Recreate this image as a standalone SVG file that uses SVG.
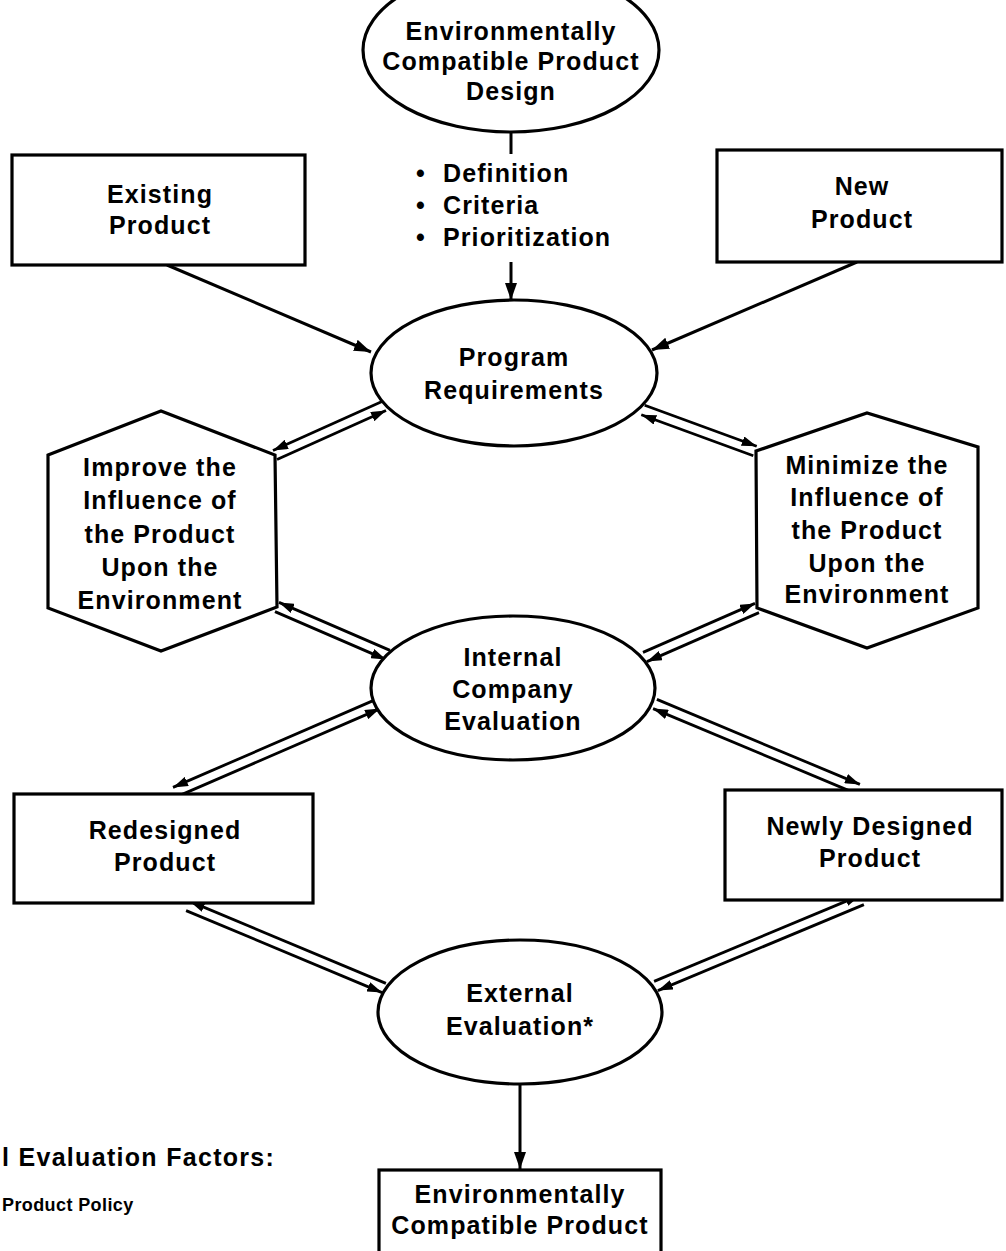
<svg xmlns="http://www.w3.org/2000/svg" width="1006" height="1251" viewBox="0 0 1006 1251">
  <defs>
    <style>
      .shape { fill: #fff; stroke: #000; stroke-width: 3.2; }
      .lbl { font-family: "Liberation Sans", Arial, Helvetica, sans-serif; font-weight: bold; font-size: 25px; letter-spacing: 1.1px; fill: #000; text-anchor: middle; }
      .note { font-family: "Liberation Sans", Arial, Helvetica, sans-serif; font-weight: bold; fill: #000; }
      .wire { fill: none; stroke: #000; stroke-width: 3; }
      .pair { fill: none; stroke: #000; stroke-width: 2.8; marker-end: url(#tip); }
      .one { fill: none; stroke: #000; stroke-width: 3; marker-end: url(#tipL); }
    </style>
    <marker id="tip" markerUnits="userSpaceOnUse" markerWidth="15" markerHeight="10" refX="15" refY="5" orient="auto" viewBox="0 0 15 10">
      <path d="M0,0 L15,5 L0,10 Z" fill="#000"/>
    </marker>
    <marker id="tipL" markerUnits="userSpaceOnUse" markerWidth="17" markerHeight="12" refX="17" refY="6" orient="auto" viewBox="0 0 17 12">
      <path d="M0,0 L17,6 L0,12 Z" fill="#000"/>
    </marker>
  </defs>

  <!-- connectors -->
  <g id="connectors">
    <line class="wire" x1="511" y1="132" x2="511" y2="154"/>
    <line class="one" x1="511" y1="262" x2="511" y2="300"/>
    <line class="one" x1="167" y1="265" x2="371" y2="352"/>
    <line class="one" x1="857" y1="262" x2="652" y2="350"/>
    <line class="one" x1="520" y1="1085" x2="520" y2="1169"/>

    <!-- two-way links drawn as parallel arrows -->
    <line class="pair" x1="382.0" y1="401.5" x2="273.0" y2="450.5"/>
    <line class="pair" x1="277.0" y1="459.5" x2="386.0" y2="410.5"/>

    <line class="pair" x1="644.7" y1="405.3" x2="756.7" y2="446.3"/>
    <line class="pair" x1="753.3" y1="455.7" x2="641.3" y2="414.7"/>

    <line class="pair" x1="390.0" y1="650.4" x2="279.0" y2="602.4"/>
    <line class="pair" x1="275.0" y1="611.6" x2="386.0" y2="659.6"/>

    <line class="pair" x1="643.0" y1="652.4" x2="755.0" y2="603.4"/>
    <line class="pair" x1="759.0" y1="612.6" x2="647.0" y2="661.6"/>

    <line class="pair" x1="376.0" y1="699.4" x2="173.0" y2="787.4"/>
    <line class="pair" x1="177.0" y1="796.6" x2="380.0" y2="708.6"/>

    <line class="pair" x1="656.9" y1="699.4" x2="859.9" y2="784.4"/>
    <line class="pair" x1="856.1" y1="793.6" x2="653.1" y2="708.6"/>

    <line class="pair" x1="385.9" y1="983.4" x2="189.9" y2="901.4"/>
    <line class="pair" x1="186.1" y1="910.6" x2="382.1" y2="992.6"/>

    <line class="pair" x1="654.1" y1="981.4" x2="860.1" y2="895.4"/>
    <line class="pair" x1="863.9" y1="904.6" x2="657.9" y2="990.6"/>
  </g>

  <g id="design-goal">
    <ellipse class="shape" cx="511" cy="50" rx="148" ry="82"/>
    <text class="lbl" x="511" y="40">Environmentally</text>
    <text class="lbl" x="511" y="70">Compatible Product</text>
    <text class="lbl" x="511" y="100">Design</text>
  </g>

  <g id="design-points">
    <text class="note" font-size="25" letter-spacing="1.1"><tspan x="416" y="182">•</tspan><tspan x="443" y="182">Definition</tspan></text>
    <text class="note" font-size="25" letter-spacing="1.1"><tspan x="416" y="214">•</tspan><tspan x="443" y="214">Criteria</tspan></text>
    <text class="note" font-size="25" letter-spacing="1.1"><tspan x="416" y="246">•</tspan><tspan x="443" y="246">Prioritization</tspan></text>
  </g>

  <g id="existing-product">
    <rect class="shape" x="12" y="155" width="293" height="110"/>
    <text class="lbl" x="160" y="203">Existing</text>
    <text class="lbl" x="160" y="234">Product</text>
  </g>

  <g id="new-product">
    <rect class="shape" x="717" y="150" width="285" height="112"/>
    <text class="lbl" x="862" y="195">New</text>
    <text class="lbl" x="862" y="228">Product</text>
  </g>

  <g id="program-requirements">
    <ellipse class="shape" cx="514" cy="373" rx="143" ry="73"/>
    <text class="lbl" x="514" y="366">Program</text>
    <text class="lbl" x="514" y="399">Requirements</text>
  </g>

  <g id="improve-influence">
    <polygon class="shape" points="48,455 161,411 275,455 277,607 161,651 48,608"/>
    <text class="lbl" x="160" y="476">Improve the</text>
    <text class="lbl" x="160" y="509">Influence of</text>
    <text class="lbl" x="160" y="543">the Product</text>
    <text class="lbl" x="160" y="576">Upon the</text>
    <text class="lbl" x="160" y="609">Environment</text>
  </g>

  <g id="minimize-influence">
    <polygon class="shape" points="756,451 867,413 978,447 978,608 867,648 757,608"/>
    <text class="lbl" x="867" y="474">Minimize the</text>
    <text class="lbl" x="867" y="506">Influence of</text>
    <text class="lbl" x="867" y="539">the Product</text>
    <text class="lbl" x="867" y="572">Upon the</text>
    <text class="lbl" x="867" y="603">Environment</text>
  </g>

  <g id="internal-evaluation">
    <ellipse class="shape" cx="513" cy="688" rx="142" ry="72"/>
    <text class="lbl" x="513" y="666">Internal</text>
    <text class="lbl" x="513" y="698">Company</text>
    <text class="lbl" x="513" y="730">Evaluation</text>
  </g>

  <g id="redesigned-product">
    <rect class="shape" x="14" y="794" width="299" height="109"/>
    <text class="lbl" x="165" y="839">Redesigned</text>
    <text class="lbl" x="165" y="871">Product</text>
  </g>

  <g id="newly-designed-product">
    <rect class="shape" x="725" y="790" width="277" height="110"/>
    <text class="lbl" x="870" y="835">Newly Designed</text>
    <text class="lbl" x="870" y="867">Product</text>
  </g>

  <g id="external-evaluation">
    <ellipse class="shape" cx="520" cy="1012" rx="142" ry="72"/>
    <text class="lbl" x="520" y="1002">External</text>
    <text class="lbl" x="520" y="1035">Evaluation*</text>
  </g>

  <g id="compatible-product">
    <rect class="shape" x="379" y="1170" width="282" height="92"/>
    <text class="lbl" x="520" y="1203">Environmentally</text>
    <text class="lbl" x="520" y="1234">Compatible Product</text>
  </g>

  <g id="factors-note">
    <text class="note" x="2" y="1166" font-size="25" letter-spacing="1.3">l Evaluation Factors:</text>
    <text class="note" x="2" y="1211" font-size="18" letter-spacing="0.4">Product Policy</text>
  </g>
</svg>
